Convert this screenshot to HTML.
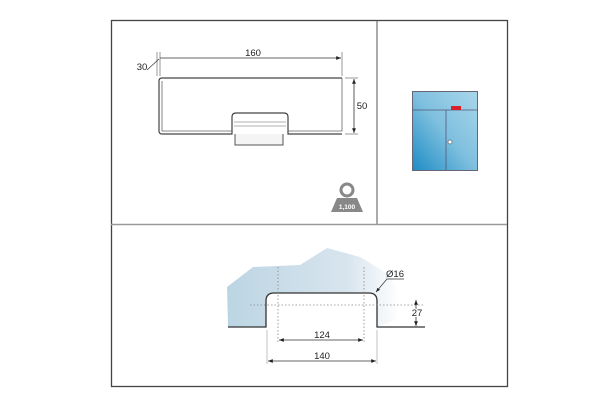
<!DOCTYPE html>
<html><head><style>
html,body{margin:0;padding:0;background:#fff;}
svg{display:block;font-family:"Liberation Sans",sans-serif;}
</style></head><body>
<svg width="616" height="405" viewBox="0 0 616 405" xmlns="http://www.w3.org/2000/svg">
<defs>
<linearGradient id="bg" x1="0" x2="1" y1="0" y2="0">
<stop offset="0" stop-color="#bcd5e3"/><stop offset="0.7" stop-color="#d8e5ee"/><stop offset="1" stop-color="#ffffff"/>
</linearGradient>
<linearGradient id="cab" x1="0" x2="1" y1="1" y2="0">
<stop offset="0" stop-color="#1d8cc4"/><stop offset="0.5" stop-color="#7fc0df"/><stop offset="1" stop-color="#a9d6ea"/>
</linearGradient>
<marker id="a" viewBox="0 0 10 10" refX="10" refY="5" markerWidth="6" markerHeight="6" orient="auto-start-reverse"><path d="M0,1 L10,5 L0,9z" fill="#222"/></marker>
</defs>
<rect x="111.5" y="20.5" width="396" height="366" fill="none" stroke="#444" stroke-width="1.3"/>
<line x1="377" y1="20" x2="377" y2="225" stroke="#555" stroke-width="1"/>
<line x1="111" y1="224.5" x2="507" y2="224.5" stroke="#999" stroke-width="1.5"/>

<path d="M342,78 L162,78 Q159,78 159,81 L159,131 Q159,134 162,134 L232,134 L232,117 Q232,113 236,113 L284,113 Q288,113 288,117 L288,134 L342,134" fill="none" stroke="#444" stroke-width="1.2"/>
<path d="M162,81 L162,131 L232,131 M288,131 L342,131 L342,78" fill="none" stroke="#666" stroke-width="0.8"/>
<path d="M235,134 L235,145 L283,145 L283,134" fill="#f4f4f4" stroke="#555" stroke-width="1"/>
<line x1="234" y1="122" x2="286" y2="122" stroke="#999" stroke-width="0.8"/>
<line x1="234" y1="126" x2="286" y2="126" stroke="#999" stroke-width="0.8"/>
<line x1="160" y1="58" x2="341" y2="58" stroke="#333" stroke-width="0.8" marker-end="url(#a)"/>
<line x1="160" y1="52" x2="160" y2="76" stroke="#555" stroke-width="0.6"/>
<line x1="342" y1="52" x2="342" y2="76" stroke="#555" stroke-width="0.6"/>
<line x1="157" y1="52" x2="157" y2="76" stroke="#555" stroke-width="0.6"/>
<line x1="147" y1="70" x2="159" y2="59" stroke="#333" stroke-width="0.7"/>
<text x="253" y="56" font-size="9.5" text-anchor="middle" fill="#222">160</text>
<text x="142" y="70" font-size="9.5" text-anchor="middle" fill="#222">30</text>
<line x1="354" y1="79" x2="354" y2="133" stroke="#333" stroke-width="0.8" marker-end="url(#a)" marker-start="url(#a)"/>
<line x1="345" y1="78" x2="358" y2="78" stroke="#555" stroke-width="0.6"/>
<line x1="345" y1="134" x2="358" y2="134" stroke="#555" stroke-width="0.6"/>
<text x="362" y="109" font-size="9.5" text-anchor="middle" fill="#222">50</text>
<circle cx="347" cy="190" r="6" fill="none" stroke="#888" stroke-width="3"/>
<path d="M337,198 L357,198 L363,212 L331,212 Z" fill="#888"/>
<text x="347" y="209" font-size="6.5" font-weight="bold" text-anchor="middle" fill="#fff">1,100</text>

<rect x="412.5" y="91.5" width="65" height="79" fill="url(#cab)" stroke="#667" stroke-width="1"/>
<line x1="412" y1="110" x2="478" y2="110" stroke="#557" stroke-width="0.8"/>
<line x1="446" y1="110" x2="446" y2="170" stroke="#557" stroke-width="0.8"/>
<rect x="451" y="106" width="10" height="4" fill="#d8202a"/>
<circle cx="450" cy="142" r="2" fill="#fff" stroke="#666" stroke-width="0.7"/>

<path d="M228,327 L227,287 L253,267 L300,265 L327,248 L360,257 L390,275 L400,300 L395,320 L377,327 L377,301 Q377,293 369,293 L274,293 Q266,293 266,301 L266,327 Z" fill="url(#bg)"/>
<path d="M228,327 L266,327 L266,301 Q266,293 274,293 L369,293 Q377,293 377,301 L377,327 L425,327" fill="none" stroke="#333" stroke-width="1.3"/>
<g stroke="#888" stroke-width="0.8" stroke-dasharray="1.5,2">
<line x1="278" y1="267" x2="278" y2="343"/>
<line x1="364" y1="267" x2="364" y2="343"/>
<line x1="250" y1="305" x2="425" y2="305"/>
</g>
<line x1="267" y1="330" x2="267" y2="364" stroke="#999" stroke-width="0.6"/>
<line x1="377" y1="330" x2="377" y2="364" stroke="#999" stroke-width="0.6"/>
<line x1="279" y1="340" x2="363" y2="340" stroke="#333" stroke-width="0.8" marker-end="url(#a)" marker-start="url(#a)"/>
<text x="322" y="338" font-size="9.5" text-anchor="middle" fill="#222">124</text>
<line x1="268" y1="361" x2="376" y2="361" stroke="#333" stroke-width="0.8" marker-end="url(#a)" marker-start="url(#a)"/>
<text x="322" y="359" font-size="9.5" text-anchor="middle" fill="#222">140</text>
<line x1="416" y1="300" x2="416" y2="326" stroke="#333" stroke-width="0.8" marker-end="url(#a)" marker-start="url(#a)"/>
<text x="417" y="316" font-size="9.5" text-anchor="middle" fill="#222" style="paint-order:stroke" stroke="#fff" stroke-width="2">27</text>
<text x="395" y="277" font-size="9.5" text-anchor="middle" fill="#222">Ø16</text>
<polyline points="404,279 387,279 376,292" fill="none" stroke="#333" stroke-width="0.7" marker-end="url(#a)"/>
</svg>
</body></html>
